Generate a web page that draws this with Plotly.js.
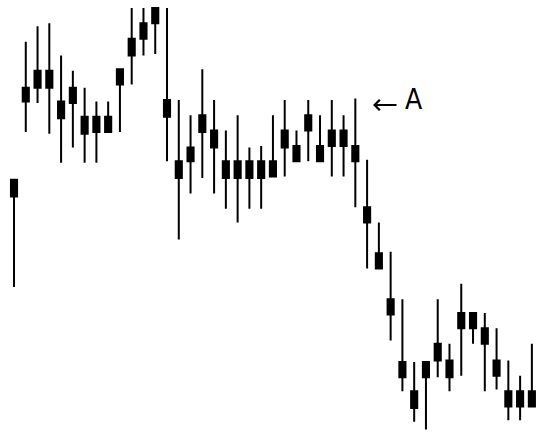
<!DOCTYPE html>
<html>
<head>
<meta charset="utf-8">
<script src="https://cdn.plot.ly/plotly-3.0.1.min.js"></script>
<style>html,body{margin:0;padding:0;background:#fff;}#chart{width:538px;height:433px;}</style>
</head>
<body>
<div id="chart"></div>
<script>
// Trading sessions (1..45)
const sessions = Array.from({length: 45}, (_, i) => i + 1);
// Box top (open), box bottom (close), wick high, wick low
const opens = [16.8,22.8,23.9,23.9,21.9,22.8,20.9,20.9,20.9,24.0,26.0,27.0,28.0,22.0,18.0,18.9,21.0,20.0,18.0,18.0,18.0,18.0,18.0,20.0,19.0,21.0,19.0,20.0,20.0,19.0,15.0,12.0,9.0,4.9,3.0,4.9,6.1,5.0,8.1,8.1,7.1,5.0,3.0,3.0,3.0];
const closes = [15.7,21.9,22.8,22.8,20.8,21.8,19.8,19.9,19.9,23.0,24.9,26.0,27.0,20.9,16.9,18.0,19.9,18.9,16.9,16.9,16.9,16.9,17.0,18.9,18.0,20.0,18.0,19.0,19.0,18.0,14.0,11.0,8.0,3.9,1.9,3.9,5.0,3.9,7.1,7.1,6.1,4.0,2.0,2.0,2.0];
const highs = [16.8,25.8,26.8,27.0,24.9,23.9,22.8,21.9,21.9,24.0,28.0,28.0,28.0,28.0,22.0,21.0,24.0,22.0,20.0,21.0,18.9,19.0,21.0,22.0,20.0,22.0,21.0,22.0,21.0,22.1,18.1,14.0,12.1,9.0,4.9,4.9,9.0,6.1,10.0,8.1,8.1,7.1,5.0,4.0,6.1];
const lows = [9.8,19.9,21.8,19.8,17.9,18.9,17.9,17.9,19.9,19.9,23.0,24.9,25.0,18.0,12.9,15.9,16.9,15.9,14.9,14.0,14.9,14.9,17.0,17.0,18.0,18.0,18.0,17.0,17.0,15.0,11.0,11.0,6.3,3.0,1.0,0.5,3.9,3.0,4.0,6.1,3.0,3.1,1.1,1.1,2.0];
const labelText = "A";

const trace = {
  type: "candlestick",
  x: sessions,
  open: opens,
  close: closes,
  high: highs,
  low: lows,
  increasing: {line: {color: "#000", width: 2}, fillcolor: "#000"},
  decreasing: {line: {color: "#000", width: 2}, fillcolor: "#000"},
  whiskerwidth: 0,
  hoverinfo: "skip",
  showlegend: false
};

const layout = {
  width: 538,
  height: 433,
  autosize: false,
  margin: {l: 0, r: 0, t: 0, b: 0, pad: 0},
  paper_bgcolor: "#fff",
  plot_bgcolor: "#fff",
  showlegend: false,
  boxgap: 0.48,
  boxgroupgap: 0,
  xaxis: {range: [-0.19, 45.52], visible: false, showgrid: false, zeroline: false, rangeslider: {visible: false}, fixedrange: true},
  yaxis: {range: [0.27, 28.52], visible: false, showgrid: false, zeroline: false, fixedrange: true},
  annotations: [
    {
      xref: "paper", yref: "paper",
      x: 373 / 538, y: 1 - 105 / 433,
      axref: "pixel", ayref: "pixel",
      ax: 25, ay: 0,
      text: "",
      showarrow: true,
      arrowhead: 4, arrowsize: 1, arrowwidth: 2, arrowcolor: "#000",
      standoff: 0, startstandoff: 0
    },
    {
      xref: "paper", yref: "paper",
      x: 414 / 538, y: 1 - 100 / 433,
      xanchor: "center", yanchor: "middle",
      text: labelText,
      showarrow: false,
      font: {family: "DejaVu Sans Condensed, Liberation Sans Narrow, Roboto Condensed, sans-serif", size: 28, color: "#000"}
    }
  ]
};

Plotly.newPlot("chart", [trace], layout, {staticPlot: true, displayModeBar: false});
</script>
</body>
</html>
